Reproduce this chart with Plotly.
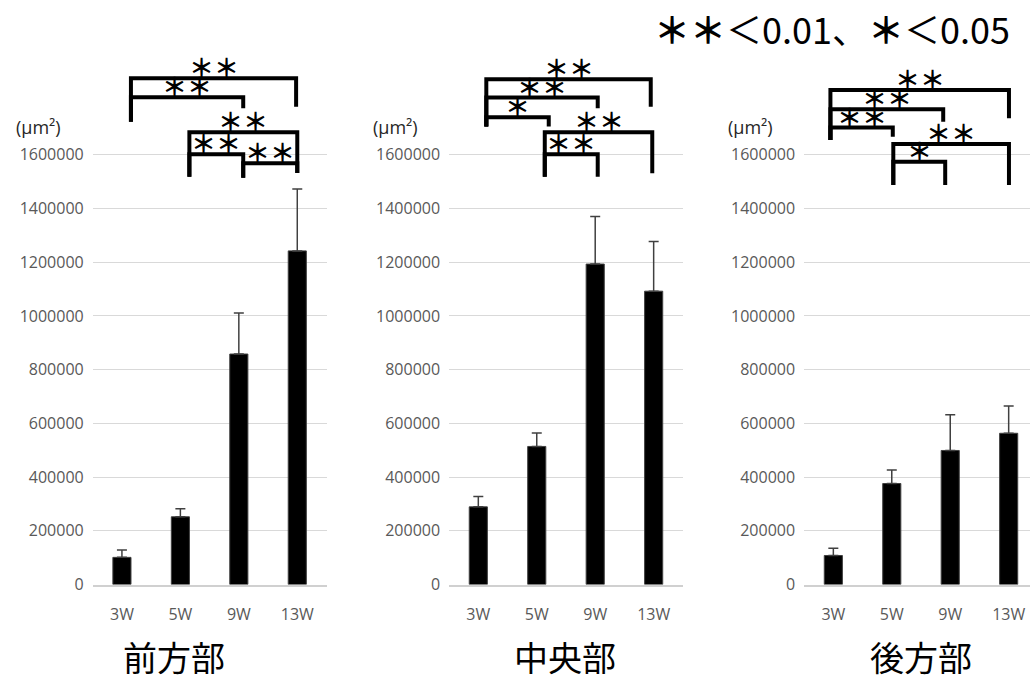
import plotly.graph_objects as go

# ---- data ----
categories = ["3W", "5W", "9W", "13W"]
front_mean = [101000, 252000, 858000, 1242000]
front_sd = [27000, 30000, 153000, 230000]
center_mean = [289000, 514000, 1193000, 1092000]
center_sd = [39000, 50000, 177000, 185000]
rear_mean = [108000, 376000, 499000, 563000]
rear_sd = [27000, 50000, 133000, 102000]
panel_titles = ["前方部", "中央部", "後方部"]
y_ticks = [0, 200000, 400000, 600000, 800000, 1000000, 1200000, 1400000, 1600000]
unit_label = "(μm²)"
legend_text = "<b>＊＊</b>＜0.01、<b>＊</b>＜0.05"

# significance brackets: (from, to, label, top level, left end level, right end level, left nudge, right nudge)
front_sig = [
    (0, 3, "＊＊", 1885000, 1723000, 1779000, 0.154, -0.02),
    (0, 2, "＊＊", 1814000, 1723000, 1773000, 0.154, 0.075),
    (1, 3, "＊＊", 1684000, 1518000, 1532000, 0.154, 0.0),
    (1, 2, "＊＊", 1602000, 1518000, 1514000, 0.154, 0.075),
    (2, 3, "＊＊", 1568000, 1514000, 1532000, 0.075, 0.0),
]
center_sig = [
    (0, 3, "＊＊", 1881000, 1705000, 1779000, 0.137, -0.05),
    (0, 2, "＊＊", 1813000, 1705000, 1773000, 0.137, 0.043),
    (0, 1, "＊", 1740000, 1705000, 1705000, 0.137, 0.205),
    (1, 3, "＊＊", 1684000, 1518000, 1531000, 0.137, -0.024),
    (1, 2, "＊＊", 1602000, 1518000, 1518000, 0.137, 0.043),
]
rear_sig = [
    (0, 3, "＊＊", 1841000, 1655000, 1736000, -0.05, 0.005),
    (0, 2, "＊＊", 1769000, 1655000, 1723000, -0.05, -0.12),
    (0, 1, "＊＊", 1701000, 1655000, 1667000, -0.05, 0.017),
    (1, 3, "＊＊", 1640000, 1487000, 1487000, 0.026, 0.005),
    (1, 2, "＊", 1574000, 1487000, 1487000, 0.026, -0.086),
]

panels = [
    (front_mean, front_sd, front_sig),
    (center_mean, center_sd, center_sig),
    (rear_mean, rear_sd, rear_sig),
]

W, H = 1030, 678
x_domains = [[0.0900, 0.3170], [0.4360, 0.6630], [0.7807, 1.0]]
x_ranges = [[-0.5, 3.5], [-0.5, 3.5], [-0.5, 3.365]]
y_domain = [(H - 584.5) / H, (H - 7) / H]
y_range = [0, 2150000]

tick_font = dict(family="Open Sans, Noto Sans, sans-serif", size=16, color="#595959")
cjk = "Noto Sans CJK JP"

fig = go.Figure()
shapes = []
annotations = []
xpos = list(range(len(categories)))

for k, (mean, sd, sig) in enumerate(panels):
    sfx = "" if k == 0 else str(k + 1)
    fig.add_trace(go.Bar(
        x=xpos, y=mean, width=0.31,
        marker=dict(color="black", line=dict(color="#404040", width=1)),
        error_y=dict(type="data", array=sd, arrayminus=[0] * len(sd), symmetric=False,
                     color="#404040", thickness=1.5, width=5),
        xaxis="x" + sfx, yaxis="y" + sfx, showlegend=False,
    ))
    xa = dict(domain=x_domains[k], range=x_ranges[k], tickvals=xpos, ticktext=categories,
              showgrid=False, zeroline=False, showline=True, linecolor="#d0d0d0", linewidth=2,
              ticks="", tickfont=tick_font, ticklabelstandoff=14, anchor="y" + sfx, fixedrange=True)
    ya = dict(domain=y_domain, range=y_range, tickvals=y_ticks, tickformat="d", showgrid=True,
              gridcolor="#d9d9d9", gridwidth=1, zeroline=False, showline=False, ticks="",
              tickfont=tick_font, ticklabelstandoff=8, anchor="x" + sfx, fixedrange=True)
    fig.layout["xaxis" + sfx] = xa
    fig.layout["yaxis" + sfx] = ya

    for (i, j, lab, ytop, yl, yr, dxl, dxr) in sig:
        xl, xr = i + dxl, j + dxr
        shapes.append(dict(
            type="path", xref="x" + sfx, yref="y" + sfx,
            path=f"M {xl} {yl} L {xl} {ytop} L {xr} {ytop} L {xr} {yr}",
            line=dict(color="black", width=4),
        ))
        annotations.append(dict(
            x=(xl + xr) / 2, y=ytop, xref="x" + sfx, yref="y" + sfx, text="<b>" + lab + "</b>",
            showarrow=False, yanchor="middle", yshift=12,
            font=dict(family=cjk, size=25, color="black"),
        ))

    # unit label
    dom = x_domains[k]
    annotations.append(dict(
        x=dom[0] - 54 / W, y=(H - 127) / H, xref="paper", yref="paper", text=unit_label,
        showarrow=False, xanchor="center", yanchor="middle",
        font=dict(family="Open Sans, sans-serif", size=18, color="#262626"),
    ))

# panel titles
title_x = [174, 565, 921]
for t, cx in zip(panel_titles, title_x):
    annotations.append(dict(
        x=cx / W, y=(H - 656) / H, xref="paper", yref="paper", text=t, showarrow=False,
        xanchor="center", yanchor="middle", font=dict(family=cjk, size=34, color="black"),
    ))

annotations.append(dict(
    x=1012 / W, y=(H - 28) / H, xref="paper", yref="paper", text=legend_text, showarrow=False,
    xanchor="right", yanchor="middle", font=dict(family=cjk, size=36, color="black"),
))

fig.update_layout(
    width=W, height=H, autosize=False,
    margin=dict(l=0, r=0, t=0, b=0, autoexpand=False),
    paper_bgcolor="white", plot_bgcolor="white",
    bargap=0.69, shapes=shapes, annotations=annotations,
)

post = (
    "var gd=document.getElementById('{plot_id}');"
    "gd.style.position='absolute';gd.style.top='0px';gd.style.left='0px';"
    "document.body.style.margin='0px';document.body.style.overflow='hidden';"
    "document.documentElement.style.overflow='hidden';"
)
fig.write_html("out.html", config={"displayModeBar": False}, post_script=post)
